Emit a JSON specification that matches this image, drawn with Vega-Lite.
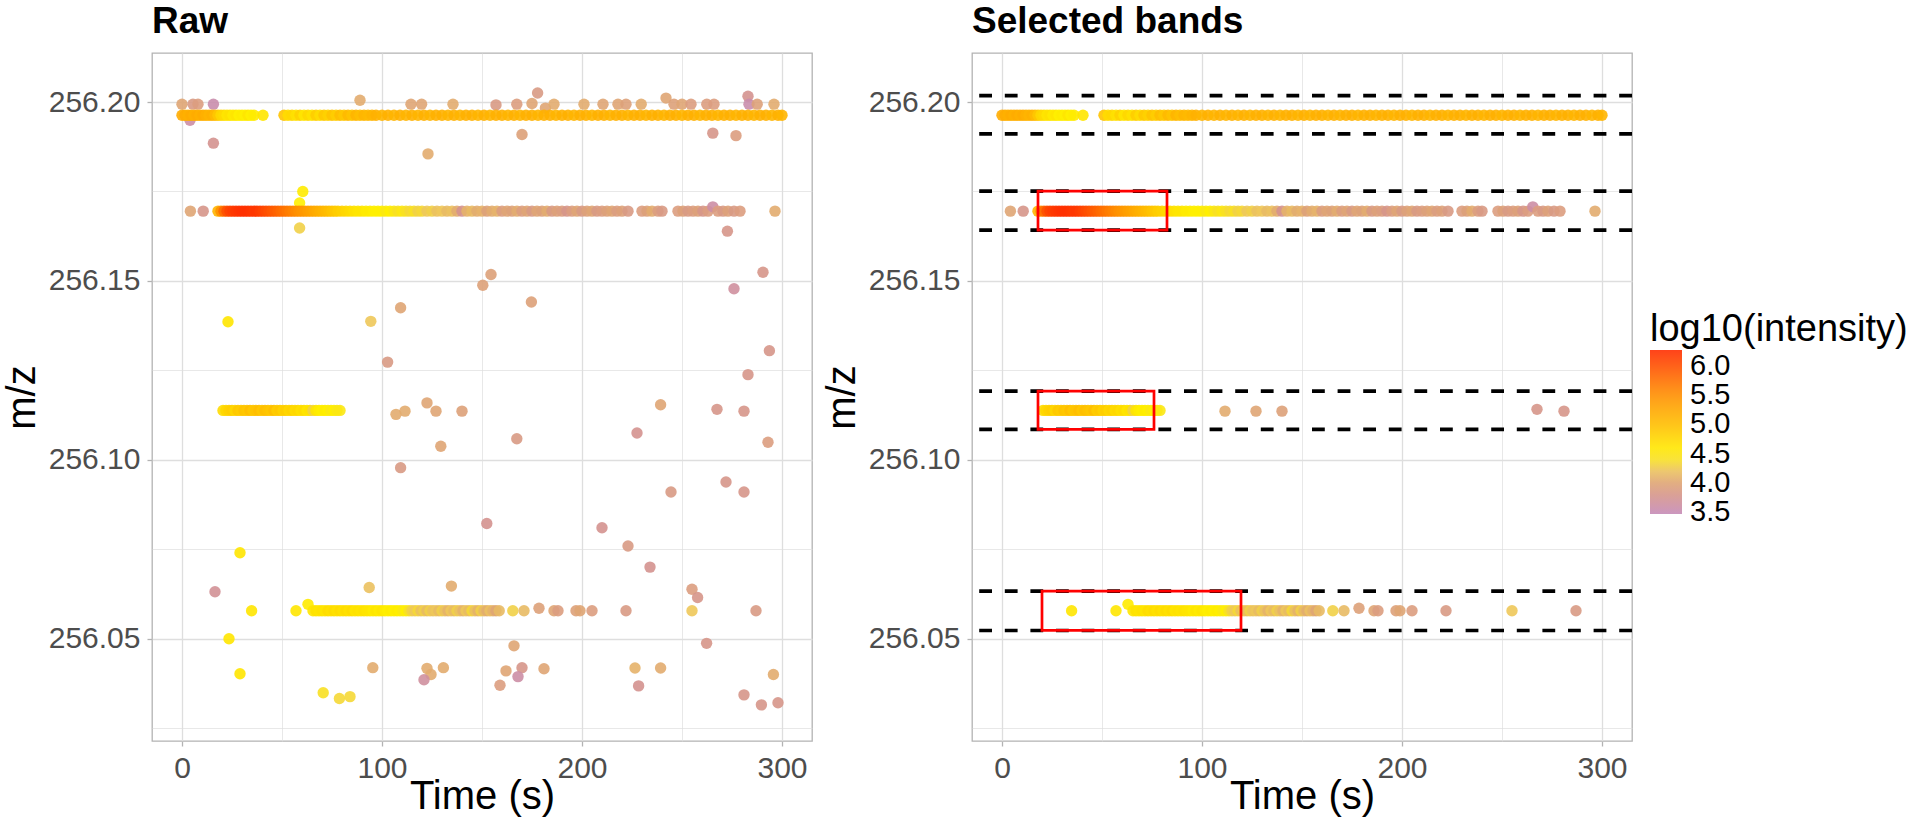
{
"$schema":"https://vega.github.io/schema/vega-lite/v6.json",
"background":"white",
"padding":{"left":1,"top":2,"right":5,"bottom":0},
"spacing":8,
"config":{
"font":"Liberation Sans",
"view":{"stroke":"#B3B3B3","strokeWidth":1.3},
"axis":{"labelFontSize":30,"labelColor":"#4D4D4D","titleFontSize":40,"titleFontWeight":"normal","titleColor":"#000000","tickColor":"#B3B3B3","tickSize":5,"tickWidth":1.3,"labelPadding":7,"domain":false,"gridColor":"#DEDEDE","labelOverlap":false,"labelFlush":false},
"title":{"fontSize":37,"fontWeight":"bold","color":"#000000","anchor":"start","frame":"group","offset":12,"baseline":"alphabetic"}
},
"datasets":{
"pts":[
{"t":0,"m":256.1994,"v":4.0,"s":0},{"t":5.5,"m":256.1994,"v":3.85,"s":0},{"t":8,"m":256.1994,"v":3.9,"s":0},{"t":15.7,"m":256.1994,"v":3.55,"s":0},{"t":4,"m":256.1949,"v":3.6,"s":0},{"t":15.7,"m":256.1885,"v":3.75,"s":0},{"t":89,"m":256.2005,"v":4.05,"s":0},{"t":114.5,"m":256.1994,"v":4.0,"s":0},{"t":119.8,"m":256.1994,"v":4.0,"s":0},{"t":135.5,"m":256.1994,"v":4.05,"s":0},{"t":157,"m":256.1992,"v":3.85,"s":0},{"t":167.4,"m":256.1994,"v":3.9,"s":0},{"t":175,"m":256.1996,"v":4.0,"s":0},{"t":177.8,"m":256.2025,"v":3.85,"s":0},{"t":181.7,"m":256.1983,"v":4.0,"s":0},{"t":186,"m":256.1994,"v":4.05,"s":0},{"t":201,"m":256.1994,"v":4.05,"s":0},{"t":210.5,"m":256.1994,"v":4.0,"s":0},{"t":218,"m":256.1994,"v":4.0,"s":0},{"t":222,"m":256.1994,"v":3.95,"s":0},{"t":229.6,"m":256.1994,"v":4.05,"s":0},{"t":242,"m":256.2011,"v":4.0,"s":0},{"t":246,"m":256.1994,"v":3.95,"s":0},{"t":250,"m":256.1994,"v":4.0,"s":0},{"t":254.5,"m":256.1994,"v":3.9,"s":0},{"t":262.4,"m":256.1994,"v":3.9,"s":0},{"t":266,"m":256.1994,"v":3.9,"s":0},{"t":283,"m":256.2016,"v":3.75,"s":0},{"t":283.5,"m":256.1994,"v":3.55,"s":0},{"t":287.6,"m":256.1994,"v":3.95,"s":0},{"t":296,"m":256.1994,"v":4.05,"s":0},{"t":123,"m":256.1855,"v":4.05,"s":0},{"t":170,"m":256.1909,"v":3.95,"s":0},{"t":265.4,"m":256.1913,"v":3.8,"s":0},{"t":277,"m":256.1906,"v":3.9,"s":0},{"t":60.4,"m":256.175,"v":4.55,"s":0},{"t":58.8,"m":256.1718,"v":4.5,"s":0},{"t":58.8,"m":256.1648,"v":4.3,"s":0},{"t":272.7,"m":256.1639,"v":3.8,"s":0},{"t":150.4,"m":256.1488,"v":3.95,"s":0},{"t":154.5,"m":256.1518,"v":3.95,"s":0},{"t":174.7,"m":256.1441,"v":3.95,"s":0},{"t":290.5,"m":256.1524,"v":3.8,"s":0},{"t":276,"m":256.1478,"v":3.65,"s":0},{"t":23,"m":256.1386,"v":4.6,"s":0},{"t":94.4,"m":256.1387,"v":4.25,"s":0},{"t":109.3,"m":256.1425,"v":4.0,"s":0},{"t":102.8,"m":256.1273,"v":3.85,"s":0},{"t":293.7,"m":256.1305,"v":3.8,"s":0},{"t":283,"m":256.1238,"v":3.8,"s":0},{"t":239.3,"m":256.1154,"v":4.0,"s":0},{"t":107,"m":256.1127,"v":4.05,"s":0},{"t":122.5,"m":256.1159,"v":4.0,"s":0},{"t":227.5,"m":256.1075,"v":3.75,"s":0},{"t":167.4,"m":256.1059,"v":3.85,"s":0},{"t":293,"m":256.1049,"v":3.9,"s":0},{"t":129.4,"m":256.1038,"v":4.0,"s":0},{"t":109.3,"m":256.0978,"v":3.85,"s":0},{"t":272,"m":256.0938,"v":3.8,"s":0},{"t":281,"m":256.091,"v":3.8,"s":0},{"t":244.5,"m":256.091,"v":3.85,"s":0},{"t":152.4,"m":256.0822,"v":3.75,"s":0},{"t":210,"m":256.081,"v":3.75,"s":0},{"t":223,"m":256.0759,"v":3.85,"s":0},{"t":234,"m":256.07,"v":3.75,"s":0},{"t":29,"m":256.074,"v":4.6,"s":0},{"t":93.6,"m":256.0643,"v":4.2,"s":0},{"t":134.7,"m":256.0647,"v":4.05,"s":0},{"t":16.5,"m":256.0631,"v":3.7,"s":0},{"t":255,"m":256.0638,"v":3.9,"s":0},{"t":257.8,"m":256.0615,"v":3.8,"s":0},{"t":23.5,"m":256.05,"v":4.6,"s":0},{"t":166,"m":256.048,"v":4.0,"s":0},{"t":262.3,"m":256.0487,"v":3.8,"s":0},{"t":29,"m":256.0402,"v":4.6,"s":0},{"t":95.4,"m":256.0419,"v":4.05,"s":0},{"t":122.5,"m":256.0417,"v":4.05,"s":0},{"t":124.5,"m":256.04,"v":4.05,"s":0},{"t":121,"m":256.0385,"v":3.65,"s":0},{"t":130.7,"m":256.0419,"v":4.05,"s":0},{"t":162,"m":256.041,"v":4.0,"s":0},{"t":159,"m":256.037,"v":3.9,"s":0},{"t":170,"m":256.0419,"v":3.8,"s":0},{"t":168,"m":256.0394,"v":3.6,"s":0},{"t":181,"m":256.0416,"v":4.0,"s":0},{"t":226.5,"m":256.0418,"v":4.1,"s":0},{"t":239.3,"m":256.0418,"v":4.05,"s":0},{"t":228.3,"m":256.0368,"v":3.75,"s":0},{"t":295.7,"m":256.04,"v":4.05,"s":0},{"t":281,"m":256.0343,"v":3.8,"s":0},{"t":289.7,"m":256.0315,"v":3.8,"s":0},{"t":298,"m":256.0321,"v":3.8,"s":0},{"t":70.6,"m":256.0349,"v":4.4,"s":0},{"t":78.7,"m":256.0333,"v":4.35,"s":0},{"t":84,"m":256.0338,"v":4.35,"s":0},
{"t":0,"m":256.1963,"v":5.2,"s":1},{"t":1.5,"m":256.1963,"v":5.2,"s":1},{"t":3,"m":256.1963,"v":5.15,"s":1},{"t":4.5,"m":256.1963,"v":5.2,"s":1},{"t":6,"m":256.1963,"v":5.15,"s":1},{"t":7.5,"m":256.1963,"v":5.2,"s":1},{"t":9,"m":256.1963,"v":5.15,"s":1},{"t":10.5,"m":256.1963,"v":5.2,"s":1},{"t":12,"m":256.1963,"v":5.15,"s":1},{"t":13.5,"m":256.1963,"v":5.1,"s":1},{"t":15,"m":256.1963,"v":5.15,"s":1},{"t":16.5,"m":256.1963,"v":5.05,"s":1},{"t":18,"m":256.1963,"v":4.9,"s":1},{"t":19.5,"m":256.1963,"v":4.75,"s":1},{"t":21,"m":256.1963,"v":4.7,"s":1},{"t":22.5,"m":256.1963,"v":4.6,"s":1},{"t":24,"m":256.1963,"v":4.65,"s":1},{"t":25.5,"m":256.1963,"v":4.55,"s":1},{"t":27,"m":256.1963,"v":4.6,"s":1},{"t":28.5,"m":256.1963,"v":4.5,"s":1},{"t":30,"m":256.1963,"v":4.55,"s":1},{"t":31.5,"m":256.1963,"v":4.5,"s":1},{"t":33,"m":256.1963,"v":4.6,"s":1},{"t":34.5,"m":256.1963,"v":4.5,"s":1},{"t":36,"m":256.1963,"v":4.55,"s":1},{"t":40.5,"m":256.1963,"v":4.6,"s":1},{"t":51,"m":256.1963,"v":4.95,"s":1},{"t":53,"m":256.1963,"v":4.7,"s":1},{"t":55,"m":256.1963,"v":4.75,"s":1},{"t":57,"m":256.1963,"v":4.65,"s":1},{"t":59,"m":256.1963,"v":4.8,"s":1},{"t":61,"m":256.1963,"v":4.6,"s":1},{"t":63,"m":256.1963,"v":4.75,"s":1},{"t":65,"m":256.1963,"v":4.65,"s":1},{"t":67,"m":256.1963,"v":4.85,"s":1},{"t":69,"m":256.1963,"v":4.7,"s":1},{"t":71,"m":256.1963,"v":4.9,"s":1},{"t":73,"m":256.1963,"v":4.8,"s":1},{"t":75,"m":256.1963,"v":4.95,"s":1},{"t":77,"m":256.1963,"v":4.85,"s":1},{"t":79,"m":256.1963,"v":5.0,"s":1},{"t":81,"m":256.1963,"v":4.9,"s":1},{"t":83,"m":256.1963,"v":5.05,"s":1},{"t":85,"m":256.1963,"v":4.95,"s":1},{"t":87,"m":256.1963,"v":5.1,"s":1},{"t":89,"m":256.1963,"v":5.0,"s":1},{"t":91,"m":256.1963,"v":5.1,"s":1},{"t":93,"m":256.1963,"v":5.05,"s":1},{"t":95,"m":256.1963,"v":5.1,"s":1},{"t":97,"m":256.1963,"v":5.15,"s":1},{"t":100,"m":256.1963,"v":5.1,"s":1},{"t":103,"m":256.1963,"v":5.15,"s":1},{"t":106,"m":256.1963,"v":5.1,"s":1},{"t":109,"m":256.1963,"v":5.15,"s":1},{"t":112,"m":256.1963,"v":5.1,"s":1},{"t":115,"m":256.1963,"v":5.15,"s":1},{"t":118,"m":256.1963,"v":5.1,"s":1},{"t":121,"m":256.1963,"v":5.15,"s":1},{"t":124,"m":256.1963,"v":5.1,"s":1},{"t":127,"m":256.1963,"v":5.15,"s":1},{"t":130,"m":256.1963,"v":5.15,"s":1},{"t":133,"m":256.1963,"v":5.1,"s":1},{"t":136,"m":256.1963,"v":5.15,"s":1},{"t":139,"m":256.1963,"v":5.1,"s":1},{"t":142,"m":256.1963,"v":5.15,"s":1},{"t":145,"m":256.1963,"v":5.15,"s":1},{"t":148,"m":256.1963,"v":5.1,"s":1},{"t":151,"m":256.1963,"v":5.15,"s":1},{"t":154,"m":256.1963,"v":5.1,"s":1},{"t":157,"m":256.1963,"v":5.15,"s":1},{"t":160,"m":256.1963,"v":5.15,"s":1},{"t":163,"m":256.1963,"v":5.1,"s":1},{"t":166,"m":256.1963,"v":5.15,"s":1},{"t":169,"m":256.1963,"v":5.1,"s":1},{"t":172,"m":256.1963,"v":5.15,"s":1},{"t":175,"m":256.1963,"v":5.15,"s":1},{"t":178,"m":256.1963,"v":5.1,"s":1},{"t":181,"m":256.1963,"v":5.15,"s":1},{"t":184,"m":256.1963,"v":5.15,"s":1},{"t":187,"m":256.1963,"v":5.1,"s":1},{"t":190,"m":256.1963,"v":5.15,"s":1},{"t":193,"m":256.1963,"v":5.15,"s":1},{"t":196,"m":256.1963,"v":5.1,"s":1},{"t":199,"m":256.1963,"v":5.15,"s":1},{"t":202,"m":256.1963,"v":5.15,"s":1},{"t":205,"m":256.1963,"v":5.1,"s":1},{"t":208,"m":256.1963,"v":5.15,"s":1},{"t":211,"m":256.1963,"v":5.15,"s":1},{"t":214,"m":256.1963,"v":5.1,"s":1},{"t":217,"m":256.1963,"v":5.15,"s":1},{"t":220,"m":256.1963,"v":5.15,"s":1},{"t":223,"m":256.1963,"v":5.1,"s":1},{"t":226,"m":256.1963,"v":5.15,"s":1},{"t":229,"m":256.1963,"v":5.15,"s":1},{"t":232,"m":256.1963,"v":5.1,"s":1},{"t":235,"m":256.1963,"v":5.15,"s":1},{"t":238,"m":256.1963,"v":5.15,"s":1},{"t":241,"m":256.1963,"v":5.1,"s":1},{"t":244,"m":256.1963,"v":5.15,"s":1},{"t":247,"m":256.1963,"v":5.15,"s":1},{"t":250,"m":256.1963,"v":5.1,"s":1},{"t":253,"m":256.1963,"v":5.15,"s":1},{"t":256,"m":256.1963,"v":5.15,"s":1},{"t":259,"m":256.1963,"v":5.1,"s":1},{"t":262,"m":256.1963,"v":5.15,"s":1},{"t":265,"m":256.1963,"v":5.15,"s":1},{"t":268,"m":256.1963,"v":5.1,"s":1},{"t":271,"m":256.1963,"v":5.15,"s":1},{"t":274,"m":256.1963,"v":5.15,"s":1},{"t":277,"m":256.1963,"v":5.1,"s":1},{"t":280,"m":256.1963,"v":5.15,"s":1},{"t":283,"m":256.1963,"v":5.15,"s":1},{"t":286,"m":256.1963,"v":5.1,"s":1},{"t":289,"m":256.1963,"v":5.15,"s":1},{"t":292,"m":256.1963,"v":5.15,"s":1},{"t":295,"m":256.1963,"v":5.1,"s":1},{"t":298,"m":256.1963,"v":5.15,"s":1},{"t":300,"m":256.1963,"v":5.1,"s":1},
{"t":4.2,"m":256.1695,"v":4.0,"s":1},{"t":10.6,"m":256.1695,"v":3.8,"s":1},{"t":18,"m":256.1695,"v":5.1,"s":1},{"t":19.5,"m":256.1695,"v":5.5,"s":1},{"t":21,"m":256.1695,"v":5.8,"s":1},{"t":22.5,"m":256.1695,"v":6.0,"s":1},{"t":24,"m":256.1695,"v":6.1,"s":1},{"t":25.5,"m":256.1695,"v":6.15,"s":1},{"t":27,"m":256.1695,"v":6.2,"s":1},{"t":28.5,"m":256.1695,"v":6.22,"s":1},{"t":30,"m":256.1695,"v":6.25,"s":1},{"t":31.5,"m":256.1695,"v":6.25,"s":1},{"t":33,"m":256.1695,"v":6.25,"s":1},{"t":34.5,"m":256.1695,"v":6.22,"s":1},{"t":36,"m":256.1695,"v":6.2,"s":1},{"t":37.5,"m":256.1695,"v":6.2,"s":1},{"t":39,"m":256.1695,"v":6.15,"s":1},{"t":40.5,"m":256.1695,"v":6.1,"s":1},{"t":42,"m":256.1695,"v":6.05,"s":1},{"t":43.5,"m":256.1695,"v":6.0,"s":1},{"t":45,"m":256.1695,"v":5.95,"s":1},{"t":46.5,"m":256.1695,"v":5.9,"s":1},{"t":48,"m":256.1695,"v":5.85,"s":1},{"t":49.5,"m":256.1695,"v":5.8,"s":1},{"t":51,"m":256.1695,"v":5.75,"s":1},{"t":52.5,"m":256.1695,"v":5.7,"s":1},{"t":54,"m":256.1695,"v":5.65,"s":1},{"t":55.5,"m":256.1695,"v":5.6,"s":1},{"t":57,"m":256.1695,"v":5.55,"s":1},{"t":58.5,"m":256.1695,"v":5.5,"s":1},{"t":60,"m":256.1695,"v":5.45,"s":1},{"t":61.5,"m":256.1695,"v":5.4,"s":1},{"t":63,"m":256.1695,"v":5.35,"s":1},{"t":64.5,"m":256.1695,"v":5.3,"s":1},{"t":66,"m":256.1695,"v":5.25,"s":1},{"t":67.5,"m":256.1695,"v":5.2,"s":1},{"t":69,"m":256.1695,"v":5.15,"s":1},{"t":70.5,"m":256.1695,"v":5.1,"s":1},{"t":72,"m":256.1695,"v":5.05,"s":1},{"t":73.5,"m":256.1695,"v":5.0,"s":1},{"t":75,"m":256.1695,"v":4.95,"s":1},{"t":76.5,"m":256.1695,"v":4.9,"s":1},{"t":78,"m":256.1695,"v":4.85,"s":1},{"t":80,"m":256.1695,"v":4.8,"s":1},{"t":82,"m":256.1695,"v":4.75,"s":1},{"t":84,"m":256.1695,"v":4.7,"s":1},{"t":86,"m":256.1695,"v":4.65,"s":1},{"t":88,"m":256.1695,"v":4.6,"s":1},{"t":90,"m":256.1695,"v":4.6,"s":1},{"t":92,"m":256.1695,"v":4.55,"s":1},{"t":94,"m":256.1695,"v":4.55,"s":1},{"t":96,"m":256.1695,"v":4.5,"s":1},{"t":98,"m":256.1695,"v":4.5,"s":1},{"t":100,"m":256.1695,"v":4.5,"s":1},{"t":102,"m":256.1695,"v":4.45,"s":1},{"t":104,"m":256.1695,"v":4.5,"s":1},{"t":106,"m":256.1695,"v":4.45,"s":1},{"t":108,"m":256.1695,"v":4.4,"s":1},{"t":110,"m":256.1695,"v":4.45,"s":1},{"t":112,"m":256.1695,"v":4.4,"s":1},{"t":114,"m":256.1695,"v":4.35,"s":1},{"t":116,"m":256.1695,"v":4.4,"s":1},{"t":118,"m":256.1695,"v":4.3,"s":1},{"t":120,"m":256.1695,"v":4.35,"s":1},{"t":122.5,"m":256.1695,"v":4.25,"s":1},{"t":125,"m":256.1695,"v":4.3,"s":1},{"t":127.5,"m":256.1695,"v":4.2,"s":1},{"t":130,"m":256.1695,"v":4.25,"s":1},{"t":132.5,"m":256.1695,"v":4.15,"s":1},{"t":135,"m":256.1695,"v":4.2,"s":1},{"t":137.5,"m":256.1695,"v":4.05,"s":1},{"t":140,"m":256.1695,"v":3.75,"s":1},{"t":142.5,"m":256.1695,"v":4.1,"s":1},{"t":145,"m":256.1695,"v":4.15,"s":1},{"t":147.5,"m":256.1695,"v":4.05,"s":1},{"t":150,"m":256.1695,"v":4.1,"s":1},{"t":152.5,"m":256.1695,"v":3.95,"s":1},{"t":155,"m":256.1695,"v":4.05,"s":1},{"t":157.5,"m":256.1695,"v":4.1,"s":1},{"t":160,"m":256.1695,"v":3.9,"s":1},{"t":162.5,"m":256.1695,"v":4.0,"s":1},{"t":165,"m":256.1695,"v":3.95,"s":1},{"t":167.5,"m":256.1695,"v":4.05,"s":1},{"t":170,"m":256.1695,"v":3.9,"s":1},{"t":172.5,"m":256.1695,"v":4.0,"s":1},{"t":175,"m":256.1695,"v":3.85,"s":1},{"t":177.5,"m":256.1695,"v":4.0,"s":1},{"t":180,"m":256.1695,"v":3.95,"s":1},{"t":182.5,"m":256.1695,"v":4.05,"s":1},{"t":185,"m":256.1695,"v":3.85,"s":1},{"t":187.5,"m":256.1695,"v":3.95,"s":1},{"t":190,"m":256.1695,"v":3.9,"s":1},{"t":192.5,"m":256.1695,"v":3.8,"s":1},{"t":195,"m":256.1695,"v":3.9,"s":1},{"t":197.5,"m":256.1695,"v":4.0,"s":1},{"t":200,"m":256.1695,"v":3.85,"s":1},{"t":202.5,"m":256.1695,"v":3.95,"s":1},{"t":205,"m":256.1695,"v":4.0,"s":1},{"t":207.5,"m":256.1695,"v":3.85,"s":1},{"t":210,"m":256.1695,"v":3.9,"s":1},{"t":212.5,"m":256.1695,"v":3.95,"s":1},{"t":215,"m":256.1695,"v":4.0,"s":1},{"t":217.5,"m":256.1695,"v":3.9,"s":1},{"t":220,"m":256.1695,"v":3.95,"s":1},{"t":223,"m":256.1695,"v":3.85,"s":1},{"t":230,"m":256.1695,"v":3.9,"s":1},{"t":232.5,"m":256.1695,"v":3.95,"s":1},{"t":235,"m":256.1695,"v":4.05,"s":1},{"t":238,"m":256.1695,"v":3.9,"s":1},{"t":240,"m":256.1695,"v":3.85,"s":1},{"t":248,"m":256.1695,"v":3.9,"s":1},{"t":250.5,"m":256.1695,"v":3.95,"s":1},{"t":253,"m":256.1695,"v":3.85,"s":1},{"t":255.5,"m":256.1695,"v":3.9,"s":1},{"t":258,"m":256.1695,"v":3.95,"s":1},{"t":260.5,"m":256.1695,"v":3.8,"s":1},{"t":263,"m":256.1695,"v":3.9,"s":1},{"t":265.4,"m":256.1707,"v":3.6,"s":1},{"t":268,"m":256.1695,"v":3.9,"s":1},{"t":270.5,"m":256.1695,"v":3.85,"s":1},{"t":273,"m":256.1695,"v":3.95,"s":1},{"t":276,"m":256.1695,"v":3.85,"s":1},{"t":279,"m":256.1695,"v":3.9,"s":1},{"t":296.5,"m":256.1695,"v":4.05,"s":1},
{"t":20.5,"m":256.1138,"v":4.7,"s":1},{"t":22,"m":256.1138,"v":4.75,"s":1},{"t":23.5,"m":256.1138,"v":4.8,"s":1},{"t":25,"m":256.1138,"v":4.85,"s":1},{"t":26.5,"m":256.1138,"v":4.75,"s":1},{"t":28,"m":256.1138,"v":4.9,"s":1},{"t":29.5,"m":256.1138,"v":4.85,"s":1},{"t":31,"m":256.1138,"v":4.95,"s":1},{"t":32.5,"m":256.1138,"v":4.9,"s":1},{"t":34,"m":256.1138,"v":5.0,"s":1},{"t":35.5,"m":256.1138,"v":4.9,"s":1},{"t":37,"m":256.1138,"v":4.95,"s":1},{"t":38.5,"m":256.1138,"v":5.0,"s":1},{"t":40,"m":256.1138,"v":4.9,"s":1},{"t":41.5,"m":256.1138,"v":5.0,"s":1},{"t":43,"m":256.1138,"v":4.95,"s":1},{"t":44.5,"m":256.1138,"v":4.9,"s":1},{"t":46,"m":256.1138,"v":5.0,"s":1},{"t":47.5,"m":256.1138,"v":4.85,"s":1},{"t":49,"m":256.1138,"v":4.9,"s":1},{"t":50.5,"m":256.1138,"v":4.8,"s":1},{"t":52,"m":256.1138,"v":4.85,"s":1},{"t":53.5,"m":256.1138,"v":4.75,"s":1},{"t":55,"m":256.1138,"v":4.8,"s":1},{"t":56.5,"m":256.1138,"v":4.7,"s":1},{"t":58,"m":256.1138,"v":4.75,"s":1},{"t":59.5,"m":256.1138,"v":4.65,"s":1},{"t":61,"m":256.1138,"v":4.7,"s":1},{"t":62.5,"m":256.1138,"v":4.6,"s":1},{"t":64,"m":256.1138,"v":4.65,"s":1},{"t":65.5,"m":256.1138,"v":4.3,"s":1},{"t":67,"m":256.1138,"v":4.6,"s":1},{"t":68.5,"m":256.1138,"v":4.55,"s":1},{"t":70,"m":256.1138,"v":4.5,"s":1},{"t":71.5,"m":256.1138,"v":4.55,"s":1},{"t":73,"m":256.1138,"v":4.5,"s":1},{"t":74.5,"m":256.1138,"v":4.45,"s":1},{"t":76,"m":256.1138,"v":4.5,"s":1},{"t":77.5,"m":256.1138,"v":4.45,"s":1},{"t":79,"m":256.1138,"v":4.45,"s":1},{"t":111.5,"m":256.1136,"v":4.05,"s":1},{"t":127,"m":256.1136,"v":4.0,"s":1},{"t":140,"m":256.1136,"v":3.95,"s":1},{"t":267.5,"m":256.1141,"v":3.8,"s":1},{"t":281,"m":256.1136,"v":3.8,"s":1},
{"t":34.8,"m":256.0578,"v":4.6,"s":1},{"t":57,"m":256.0578,"v":4.6,"s":1},{"t":63,"m":256.0596,"v":4.55,"s":1},{"t":65.5,"m":256.0578,"v":4.6,"s":1},{"t":67,"m":256.0578,"v":4.65,"s":1},{"t":68.5,"m":256.0578,"v":4.6,"s":1},{"t":70,"m":256.0578,"v":4.65,"s":1},{"t":71.5,"m":256.0578,"v":4.6,"s":1},{"t":73,"m":256.0578,"v":4.7,"s":1},{"t":74.5,"m":256.0578,"v":4.65,"s":1},{"t":76,"m":256.0578,"v":4.7,"s":1},{"t":77.5,"m":256.0578,"v":4.65,"s":1},{"t":79,"m":256.0578,"v":4.7,"s":1},{"t":80.5,"m":256.0578,"v":4.65,"s":1},{"t":82,"m":256.0578,"v":4.7,"s":1},{"t":83.5,"m":256.0578,"v":4.65,"s":1},{"t":85,"m":256.0578,"v":4.7,"s":1},{"t":86.5,"m":256.0578,"v":4.6,"s":1},{"t":88,"m":256.0578,"v":4.65,"s":1},{"t":89.5,"m":256.0578,"v":4.6,"s":1},{"t":91,"m":256.0578,"v":4.65,"s":1},{"t":92.5,"m":256.0578,"v":4.6,"s":1},{"t":94,"m":256.0578,"v":4.6,"s":1},{"t":95.5,"m":256.0578,"v":4.55,"s":1},{"t":97,"m":256.0578,"v":4.6,"s":1},{"t":98.5,"m":256.0578,"v":4.55,"s":1},{"t":100,"m":256.0578,"v":4.6,"s":1},{"t":101.5,"m":256.0578,"v":4.55,"s":1},{"t":103,"m":256.0578,"v":4.5,"s":1},{"t":104.5,"m":256.0578,"v":4.55,"s":1},{"t":106,"m":256.0578,"v":4.5,"s":1},{"t":107.5,"m":256.0578,"v":4.55,"s":1},{"t":109,"m":256.0578,"v":4.5,"s":1},{"t":110.5,"m":256.0578,"v":4.45,"s":1},{"t":112,"m":256.0578,"v":4.5,"s":1},{"t":113.5,"m":256.0578,"v":4.4,"s":1},{"t":115,"m":256.0578,"v":4.3,"s":1},{"t":116.5,"m":256.0578,"v":4.25,"s":1},{"t":118,"m":256.0578,"v":4.35,"s":1},{"t":119.5,"m":256.0578,"v":4.2,"s":1},{"t":121,"m":256.0578,"v":4.3,"s":1},{"t":122.5,"m":256.0578,"v":4.15,"s":1},{"t":124,"m":256.0578,"v":4.3,"s":1},{"t":125.5,"m":256.0578,"v":4.2,"s":1},{"t":127,"m":256.0578,"v":4.25,"s":1},{"t":128.5,"m":256.0578,"v":4.15,"s":1},{"t":130,"m":256.0578,"v":4.3,"s":1},{"t":131.5,"m":256.0578,"v":4.2,"s":1},{"t":133,"m":256.0578,"v":4.1,"s":1},{"t":134.5,"m":256.0578,"v":4.25,"s":1},{"t":136,"m":256.0578,"v":4.15,"s":1},{"t":137.5,"m":256.0578,"v":4.3,"s":1},{"t":139,"m":256.0578,"v":4.2,"s":1},{"t":140.5,"m":256.0578,"v":4.1,"s":1},{"t":142,"m":256.0578,"v":4.25,"s":1},{"t":143.5,"m":256.0578,"v":4.15,"s":1},{"t":145,"m":256.0578,"v":4.35,"s":1},{"t":146.5,"m":256.0578,"v":4.2,"s":1},{"t":148,"m":256.0578,"v":4.1,"s":1},{"t":149.5,"m":256.0578,"v":4.3,"s":1},{"t":151,"m":256.0578,"v":4.15,"s":1},{"t":152.5,"m":256.0578,"v":4.05,"s":1},{"t":154,"m":256.0578,"v":4.2,"s":1},{"t":155.5,"m":256.0578,"v":4.1,"s":1},{"t":157,"m":256.0578,"v":4.0,"s":1},{"t":158.6,"m":256.0578,"v":4.15,"s":1},{"t":165.4,"m":256.0578,"v":4.3,"s":1},{"t":171,"m":256.0578,"v":4.15,"s":1},{"t":178.5,"m":256.0585,"v":3.95,"s":1},{"t":186,"m":256.0578,"v":4.0,"s":1},{"t":188,"m":256.0578,"v":3.9,"s":1},{"t":197,"m":256.0578,"v":3.95,"s":1},{"t":199,"m":256.0578,"v":4.0,"s":1},{"t":205,"m":256.0578,"v":3.9,"s":1},{"t":222,"m":256.0578,"v":3.85,"s":1},{"t":255,"m":256.0578,"v":4.25,"s":1},{"t":287,"m":256.0578,"v":3.85,"s":1}
],
"bands":[{"y":256.2018},{"y":256.1911},{"y":256.1751},{"y":256.1642},{"y":256.1192},{"y":256.1085},{"y":256.0633},{"y":256.0523}],
"boxes":[{"x1":18,"x2":82.5,"y1":256.1642,"y2":256.1751},{"x1":18,"x2":76,"y1":256.1085,"y2":256.1192},{"x1":20,"x2":119.5,"y1":256.0523,"y2":256.0633}]
},
"hconcat":[
{
"width":660,"height":688,
"title":"Raw",
"data":{"name":"pts"},
"mark":{"type":"circle","size":130,"opacity":0.9},
"encoding":{
"x":{"field":"t","type":"quantitative","title":"Time (s)","scale":{"domain":[-15,315],"nice":false,"zero":false},
"axis":{"values":[0,50,100,150,200,250,300],"labelExpr":"datum.value % 100 == 0 ? datum.label : ''","format":"d","tickOpacity":{"condition":{"test":"datum.value % 100 == 0","value":1},"value":0},"gridWidth":{"condition":{"test":"datum.value % 100 == 0","value":1.3},"value":0.7},"titlePadding":25,"titleBaseline":"alphabetic"}},
"y":{"field":"m","type":"quantitative","title":"m/z","scale":{"domain":[256.0214,256.2137],"nice":false,"zero":false},
"axis":{"values":[256.025,256.05,256.075,256.1,256.125,256.15,256.175,256.2],"labelExpr":"abs(datum.value*20 - round(datum.value*20)) < 0.01 ? format(datum.value, '.2f') : ''","tickOpacity":{"condition":{"test":"abs(datum.value*20 - round(datum.value*20)) < 0.01","value":1},"value":0},"gridWidth":{"condition":{"test":"abs(datum.value*20 - round(datum.value*20)) < 0.01","value":1.3},"value":0.7},"titlePadding":6}},
"color":{"field":"v","type":"quantitative","title":"log10(intensity)",
"scale":{"domain":[3.47,3.75,4.0,4.25,4.5,5.0,5.5,6.0,6.27],"range":["#C58BB8","#D4928F","#DFA574","#EEC85A","#FFF000","#FFBE00","#FF9000","#FF5000","#FF2E00"],"interpolate":"rgb"},
"legend":{"orient":"none","legendX":1498,"legendY":258,"gradientLength":164,"gradientThickness":32,"values":[3.5,4,4.5,5,5.5,6],"format":".1f","titleFontSize":38,"titleFontWeight":"normal","titleColor":"#000000","titleLimit":500,"labelFontSize":29,"labelColor":"#000000","labelOffset":8,"titlePadding":1,"gradientStrokeWidth":0}}
}
},
{
"width":660,"height":688,
"title":"Selected bands",
"layer":[
{"data":{"name":"pts"},"transform":[{"filter":"datum.s == 1"}],
"mark":{"type":"circle","size":130,"opacity":0.9},
"encoding":{
"x":{"field":"t","type":"quantitative","title":"Time (s)","scale":{"domain":[-15,315],"nice":false,"zero":false},
"axis":{"values":[0,50,100,150,200,250,300],"labelExpr":"datum.value % 100 == 0 ? datum.label : ''","format":"d","tickOpacity":{"condition":{"test":"datum.value % 100 == 0","value":1},"value":0},"gridWidth":{"condition":{"test":"datum.value % 100 == 0","value":1.3},"value":0.7},"titlePadding":25,"titleBaseline":"alphabetic"}},
"y":{"field":"m","type":"quantitative","title":"m/z","scale":{"domain":[256.0214,256.2137],"nice":false,"zero":false},
"axis":{"values":[256.025,256.05,256.075,256.1,256.125,256.15,256.175,256.2],"labelExpr":"abs(datum.value*20 - round(datum.value*20)) < 0.01 ? format(datum.value, '.2f') : ''","tickOpacity":{"condition":{"test":"abs(datum.value*20 - round(datum.value*20)) < 0.01","value":1},"value":0},"gridWidth":{"condition":{"test":"abs(datum.value*20 - round(datum.value*20)) < 0.01","value":1.3},"value":0.7},"titlePadding":6}},
"color":{"field":"v","type":"quantitative","title":"log10(intensity)",
"scale":{"domain":[3.47,3.75,4.0,4.25,4.5,5.0,5.5,6.0,6.27],"range":["#C58BB8","#D4928F","#DFA574","#EEC85A","#FFF000","#FFBE00","#FF9000","#FF5000","#FF2E00"],"interpolate":"rgb"}}
}},
{"data":{"name":"bands"},"mark":{"type":"rule","color":"#000000","strokeWidth":3.6,"strokeDash":[12.8,12.8]},
"encoding":{"y":{"field":"y","type":"quantitative","scale":{"domain":[256.0214,256.2137],"nice":false,"zero":false}}}},
{"data":{"name":"boxes"},"mark":{"type":"rect","fillOpacity":0,"stroke":"#FF0000","strokeWidth":2.7},
"encoding":{"x":{"field":"x1","type":"quantitative","scale":{"domain":[-15,315],"nice":false,"zero":false}},"x2":{"field":"x2"},
"y":{"field":"y1","type":"quantitative","scale":{"domain":[256.0214,256.2137],"nice":false,"zero":false}},"y2":{"field":"y2"}}}
]
}
]
}
